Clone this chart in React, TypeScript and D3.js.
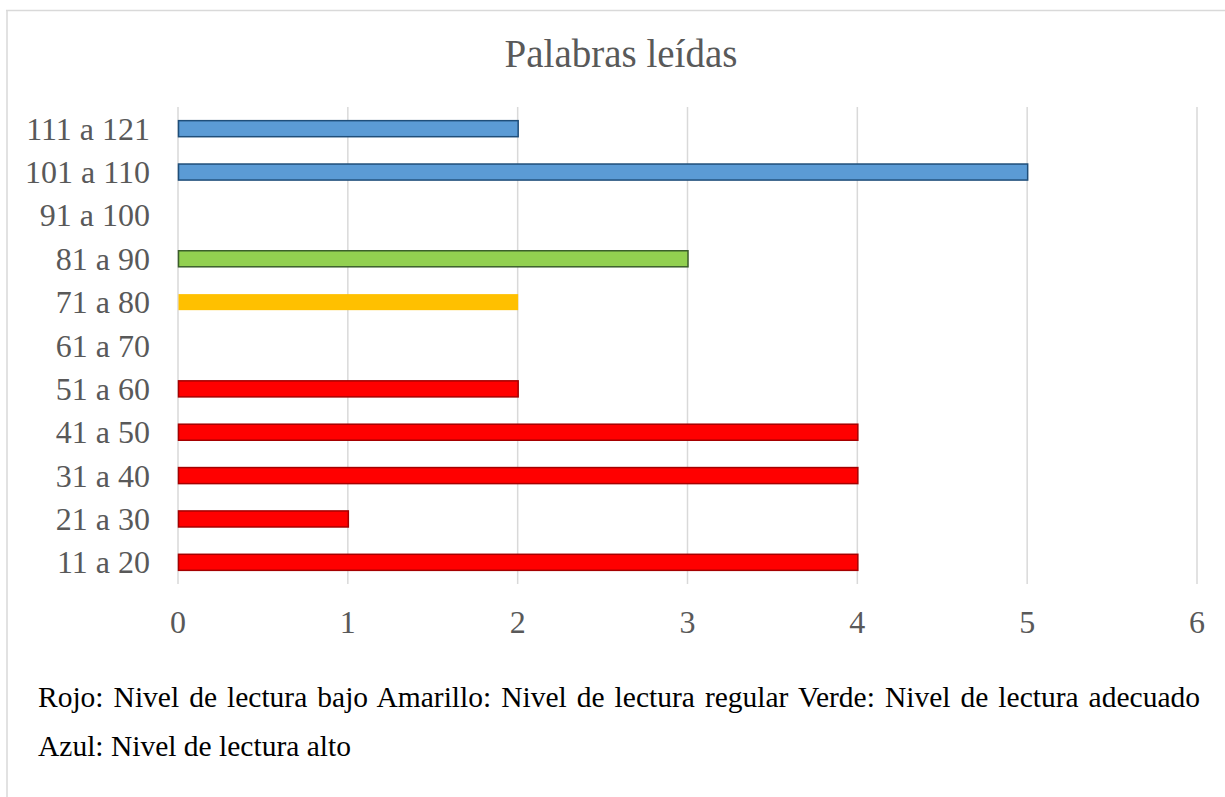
import React, { useEffect, useRef } from "react";
import * as d3 from "d3";

const categories = ["111 a 121", "101 a 110", "91 a 100", "81 a 90", "71 a 80", "61 a 70", "51 a 60", "41 a 50", "31 a 40", "21 a 30", "11 a 20"];
const values = [2, 5, 0, 3, 2, 0, 2, 4, 4, 1, 4];
const levels = ["alto", "alto", "adecuado", "adecuado", "regular", "bajo", "bajo", "bajo", "bajo", "bajo", "bajo"];
const xTicks = [0, 1, 2, 3, 4, 5, 6];
const noteLine1 = "Rojo: Nivel de lectura bajo Amarillo: Nivel de lectura regular Verde: Nivel de lectura adecuado";
const noteLine2 = "Azul: Nivel de lectura alto";

const fills: Record<string, string> = { bajo: "#FF0000", regular: "#FFC000", adecuado: "#92D050", alto: "#5B9BD5" };
const strokes: Record<string, string> = { bajo: "#A50000", regular: "none", adecuado: "#3B5E2B", alto: "#1F4E79" };

const W = 1225;
const H = 797;
const margin = { top: 107, right: 28, bottom: 213, left: 178 };
const font = "Liberation Serif";

export default function App() {
  const lineRef = useRef<SVGTextElement>(null);

  const x = d3.scaleLinear().domain([0, 6]).range([margin.left, W - margin.right]);
  const y = d3.scaleBand().domain(categories).range([margin.top, H - margin.bottom]).paddingInner(0.63).paddingOuter(0.315);
  const yRow = d3.scaleBand().domain(categories).range([margin.top, H - margin.bottom]);

  useEffect(() => {
    // justify the first note line like the original document
    const el = lineRef.current;
    if (!el) return;
    el.setAttribute("word-spacing", "0");
    const target = 1200 - 38;
    const natural = el.getComputedTextLength();
    const gaps = noteLine1.split(" ").length - 1;
    el.setAttribute("word-spacing", String(Math.max(0, (target - natural) / gaps)));
  }, []);

  const ts = { fontFamily: font };

  return (
    <svg width={W} height={H} style={{ position: "absolute", left: 0, top: 0 }}>
      <rect x={0} y={0} width={W} height={H} fill="#fff" />
      <line x1={6} x2={W} y1={10.5} y2={10.5} stroke="#D9D9D9" strokeWidth={1.5} />
      <line x1={7} x2={7} y1={10} y2={H} stroke="#D9D9D9" strokeWidth={1.5} />

      <text x={621} y={67} textAnchor="middle" fontSize={39} fill="#595959" style={ts}>Palabras leídas</text>

      {xTicks.map((t) => (
        <g key={t}>
          <line x1={x(t)} x2={x(t)} y1={margin.top} y2={H - margin.bottom} stroke="#D9D9D9" strokeWidth={1.5} />
          <text x={x(t)} y={633} textAnchor="middle" fontSize={32} fill="#595959" style={ts}>{t}</text>
        </g>
      ))}

      {categories.map((c) => (
        <text key={c} x={150} y={(yRow(c) as number) + yRow.bandwidth() / 2 + 11} textAnchor="end" fontSize={32} fill="#595959" style={ts}>{c}</text>
      ))}

      {categories.map((c, i) => values[i] > 0 && (
        <rect key={c} x={x(0) + 0.5} y={y(c)} width={x(values[i]) - x(0)} height={y.bandwidth()}
          fill={fills[levels[i]]} stroke={strokes[levels[i]]} strokeWidth={1.5} />
      ))}

      <text ref={lineRef} x={38} y={707} fontSize={29.5} fill="#000" style={ts}>{noteLine1}</text>
      <text x={38} y={756} fontSize={29.5} fill="#000" style={ts}>{noteLine2}</text>
    </svg>
  );
}
